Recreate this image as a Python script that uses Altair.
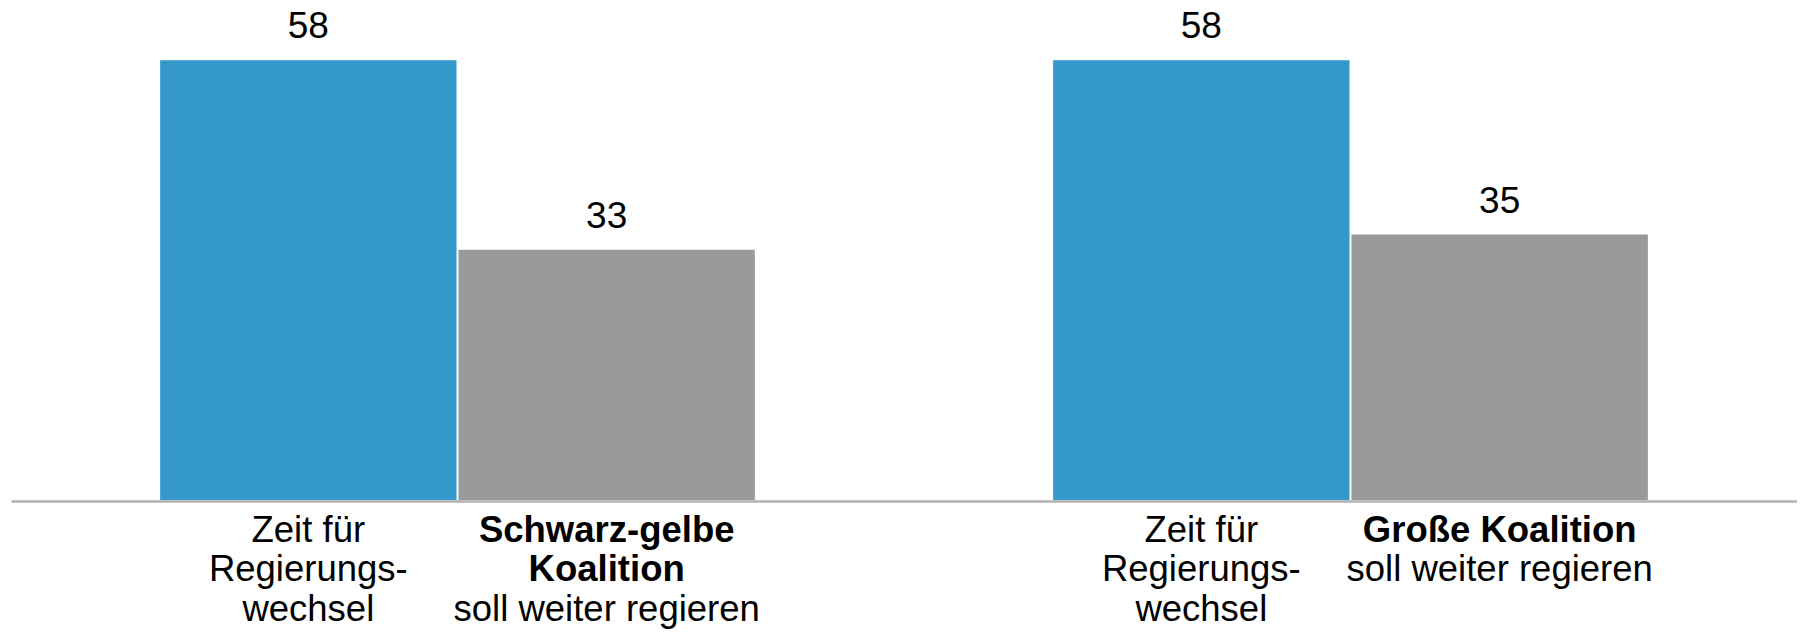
import altair as alt
import pandas as pd

# ---- data -------------------------------------------------------------
groups = ["Schwarz-gelbe Koalition", "Große Koalition"]
categories = ["Regierungswechsel", "weiter regieren"]
values_group1 = [58, 33]
values_group2 = [58, 35]
bar_colors = ["#3598cb", "#9a9a9a"]

# label lines: (group, category, line index, text, weight)
label_group = [groups[0], groups[0], groups[0], groups[0], groups[0], groups[0],
               groups[1], groups[1], groups[1], groups[1], groups[1]]
label_category = [categories[0], categories[0], categories[0],
                  categories[1], categories[1], categories[1],
                  categories[0], categories[0], categories[0],
                  categories[1], categories[1]]
label_line = [0, 1, 2, 0, 1, 2, 0, 1, 2, 0, 1]
label_text = ["Zeit für", "Regierungs-", "wechsel",
              "Schwarz-gelbe", "Koalition", "soll weiter regieren",
              "Zeit für", "Regierungs-", "wechsel",
              "Große Koalition", "soll weiter regieren"]
label_weight = ["normal", "normal", "normal",
                "bold", "bold", "normal",
                "normal", "normal", "normal",
                "bold", "normal"]

bars = pd.DataFrame({
    "group": [groups[0]] * 2 + [groups[1]] * 2,
    "category": categories + categories,
    "value": values_group1 + values_group2,
})
labels = pd.DataFrame({
    "group": label_group,
    "category": label_category,
    "line": label_line,
    "text": label_text,
    "weight": label_weight,
})

FONT = "Liberation Sans"

x_enc = alt.X("group:N", sort=groups,
              scale=alt.Scale(paddingInner=0.334, paddingOuter=0.167),
              axis=alt.Axis(title=None, labels=False, ticks=False, domain=True,
                            grid=False, domainColor="#b0b0b0", domainWidth=2.5,
                            offset=1))
xo_enc = alt.XOffset("category:N", sort=categories,
                     scale=alt.Scale(paddingInner=0.0067, paddingOuter=0))
y_enc = alt.Y("value:Q", scale=alt.Scale(domain=[0, 60], nice=False, zero=True),
              axis=None)

base = alt.Chart(bars)

bar_layer = base.mark_bar().encode(
    x=x_enc,
    xOffset=xo_enc,
    y=y_enc,
    color=alt.Color("category:N", sort=categories,
                    scale=alt.Scale(domain=categories, range=bar_colors),
                    legend=None),
)

value_layer = base.mark_text(
    font=FONT, fontSize=37, baseline="alphabetic", dy=-22, color="#000000"
).encode(
    x=x_enc,
    xOffset=xo_enc,
    y=y_enc,
    text=alt.Text("value:Q"),
)

layers = [bar_layer, value_layer]
for line_idx in range(3):
    for weight in ["normal", "bold"]:
        sub = labels[(labels["line"] == line_idx) & (labels["weight"] == weight)]
        if len(sub) == 0:
            continue
        layers.append(
            alt.Chart(labels).transform_filter(
                (alt.datum.line == line_idx) & (alt.datum.weight == weight)
            ).mark_text(
                font=FONT, fontSize=36.5, fontWeight=weight,
                baseline="alphabetic", align="center",
                dy=41.7 + 39.5 * line_idx, color="#000000",
            ).encode(
                x=x_enc,
                xOffset=xo_enc,
                y=alt.datum(0),
                text="text:N",
            )
        )

chart = alt.layer(*layers).properties(
    width=1786,
    height=455,
    padding={"left": 3, "top": 37, "right": 0, "bottom": 135},
    autosize=alt.AutoSizeParams(type="none"),
    background="#ffffff",
).configure_view(strokeWidth=0, stroke="transparent")

chart.save("out.html", embed_options={"renderer": "svg", "actions": False})
